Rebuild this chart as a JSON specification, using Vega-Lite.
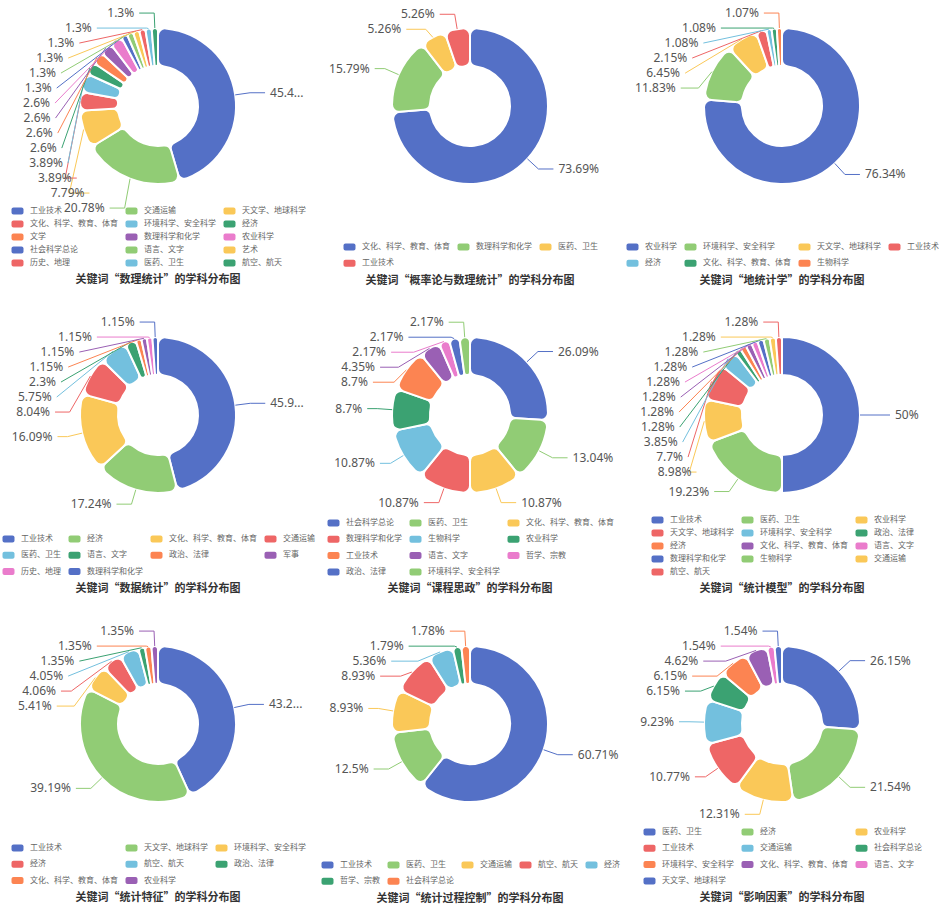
{
  "$schema": "https://vega.github.io/schema/vega-lite/v6.json",
  "background": "#ffffff",
  "padding": {"left": 2, "top": 0, "right": 0, "bottom": 0},
  "data": {"values": [
    {"c":"A","i":1,"n":"工业技术","v":45.45},{"c":"A","i":2,"n":"交通运输","v":20.78},{"c":"A","i":3,"n":"天文学、地球科学","v":7.79},{"c":"A","i":4,"n":"文化、科学、教育、体育","v":3.89},{"c":"A","i":5,"n":"环境科学、安全科学","v":3.89},{"c":"A","i":6,"n":"经济","v":2.6},{"c":"A","i":7,"n":"文学","v":2.6},{"c":"A","i":8,"n":"数理科学和化学","v":2.6},{"c":"A","i":9,"n":"农业科学","v":2.6},{"c":"A","i":10,"n":"社会科学总论","v":1.3},{"c":"A","i":11,"n":"语言、文字","v":1.3},{"c":"A","i":12,"n":"艺术","v":1.3},{"c":"A","i":13,"n":"历史、地理","v":1.3},{"c":"A","i":14,"n":"医药、卫生","v":1.3},{"c":"A","i":15,"n":"航空、航天","v":1.3},
    {"c":"B","i":1,"n":"文化、科学、教育、体育","v":73.69},{"c":"B","i":2,"n":"数理科学和化学","v":15.79},{"c":"B","i":3,"n":"医药、卫生","v":5.26},{"c":"B","i":4,"n":"工业技术","v":5.26},
    {"c":"C","i":1,"n":"农业科学","v":76.34},{"c":"C","i":2,"n":"环境科学、安全科学","v":11.83},{"c":"C","i":3,"n":"天文学、地球科学","v":6.45},{"c":"C","i":4,"n":"工业技术","v":2.15},{"c":"C","i":5,"n":"经济","v":1.08},{"c":"C","i":6,"n":"文化、科学、教育、体育","v":1.08},{"c":"C","i":7,"n":"生物科学","v":1.07},
    {"c":"D","i":1,"n":"工业技术","v":45.98},{"c":"D","i":2,"n":"经济","v":17.24},{"c":"D","i":3,"n":"文化、科学、教育、体育","v":16.09},{"c":"D","i":4,"n":"交通运输","v":8.04},{"c":"D","i":5,"n":"医药、卫生","v":5.75},{"c":"D","i":6,"n":"语言、文字","v":2.3},{"c":"D","i":7,"n":"政治、法律","v":1.15},{"c":"D","i":8,"n":"军事","v":1.15},{"c":"D","i":9,"n":"历史、地理","v":1.15},{"c":"D","i":10,"n":"数理科学和化学","v":1.15},
    {"c":"E","i":1,"n":"社会科学总论","v":26.09},{"c":"E","i":2,"n":"医药、卫生","v":13.04},{"c":"E","i":3,"n":"文化、科学、教育、体育","v":10.87},{"c":"E","i":4,"n":"数理科学和化学","v":10.87},{"c":"E","i":5,"n":"生物科学","v":10.87},{"c":"E","i":6,"n":"农业科学","v":8.7},{"c":"E","i":7,"n":"工业技术","v":8.7},{"c":"E","i":8,"n":"语言、文字","v":4.35},{"c":"E","i":9,"n":"哲学、宗教","v":2.17},{"c":"E","i":10,"n":"政治、法律","v":2.17},{"c":"E","i":11,"n":"环境科学、安全科学","v":2.17},
    {"c":"F","i":1,"n":"工业技术","v":50},{"c":"F","i":2,"n":"医药、卫生","v":19.23},{"c":"F","i":3,"n":"农业科学","v":8.98},{"c":"F","i":4,"n":"天文学、地球科学","v":7.7},{"c":"F","i":5,"n":"环境科学、安全科学","v":3.85},{"c":"F","i":6,"n":"政治、法律","v":1.28},{"c":"F","i":7,"n":"经济","v":1.28},{"c":"F","i":8,"n":"文化、科学、教育、体育","v":1.28},{"c":"F","i":9,"n":"语言、文字","v":1.28},{"c":"F","i":10,"n":"数理科学和化学","v":1.28},{"c":"F","i":11,"n":"生物科学","v":1.28},{"c":"F","i":12,"n":"交通运输","v":1.28},{"c":"F","i":13,"n":"航空、航天","v":1.28},
    {"c":"G","i":1,"n":"工业技术","v":43.24},{"c":"G","i":2,"n":"天文学、地球科学","v":39.19},{"c":"G","i":3,"n":"环境科学、安全科学","v":5.41},{"c":"G","i":4,"n":"经济","v":4.06},{"c":"G","i":5,"n":"航空、航天","v":4.05},{"c":"G","i":6,"n":"政治、法律","v":1.35},{"c":"G","i":7,"n":"文化、科学、教育、体育","v":1.35},{"c":"G","i":8,"n":"农业科学","v":1.35},
    {"c":"H","i":1,"n":"工业技术","v":60.71},{"c":"H","i":2,"n":"医药、卫生","v":12.5},{"c":"H","i":3,"n":"交通运输","v":8.93},{"c":"H","i":4,"n":"航空、航天","v":8.93},{"c":"H","i":5,"n":"经济","v":5.36},{"c":"H","i":6,"n":"哲学、宗教","v":1.79},{"c":"H","i":7,"n":"社会科学总论","v":1.78},
    {"c":"I","i":1,"n":"医药、卫生","v":26.15},{"c":"I","i":2,"n":"经济","v":21.54},{"c":"I","i":3,"n":"农业科学","v":12.31},{"c":"I","i":4,"n":"工业技术","v":10.77},{"c":"I","i":5,"n":"交通运输","v":9.23},{"c":"I","i":6,"n":"社会科学总论","v":6.15},{"c":"I","i":7,"n":"环境科学、安全科学","v":6.15},{"c":"I","i":8,"n":"文化、科学、教育、体育","v":4.62},{"c":"I","i":9,"n":"语言、文字","v":1.54},{"c":"I","i":10,"n":"天文学、地球科学","v":1.54}
  ]},
  "transform": [
    {"joinaggregate": [{"op": "sum", "field": "v", "as": "tot"}], "groupby": ["c"]},
    {"window": [{"op": "sum", "field": "v", "as": "cum"}], "sort": [{"field": "i", "order": "ascending"}], "groupby": ["c"], "frame": [null, 0]},
    {"calculate": "(datum.cum - datum.v/2)/datum.tot*2*PI", "as": "a"},
    {"calculate": "sin(datum.a)", "as": "sa"},
    {"calculate": "cos(datum.a)", "as": "ca"},
    {"calculate": "datum.sa < 0 ? -1 : 1", "as": "s"},
    {"calculate": "78*datum.sa", "as": "p0x"},
    {"calculate": "-78*datum.ca", "as": "p0y"},
    {"calculate": "93*datum.sa", "as": "x2"},
    {"calculate": "-93*datum.ca", "as": "y2"},
    {"window": [{"op": "row_number", "as": "k"}], "sort": [{"field": "y2", "order": "ascending"}], "groupby": ["c", "s"]},
    {"calculate": "datum.y2 - 15*(datum.k - 1)", "as": "tk"},
    {"window": [{"op": "max", "field": "tk", "as": "cm"}], "sort": [{"field": "y2", "order": "ascending"}], "groupby": ["c", "s"], "frame": [null, 0]},
    {"joinaggregate": [{"op": "count", "as": "cnt"}], "groupby": ["c", "s"]},
    {"calculate": "datum.cnt < 2 ? datum.y2 : max(datum.cm, -98.5) + 15*(datum.k - 1)", "as": "Ly"},
    {"calculate": "datum.Ly > datum.y2 + 0.001 ? 1 : 0", "as": "sh"},
    {"joinaggregate": [{"op": "max", "field": "sh", "as": "adj"}], "groupby": ["c", "s"]},
    {"calculate": "datum.Ly > 0 ? 1 : 0", "as": "semi"},
    {"calculate": "abs(datum.Ly)", "as": "dy"},
    {"calculate": "abs(datum.x2) + 5", "as": "adx"},
    {"calculate": "datum.adx < 93 ? sqrt(datum.dy*datum.dy/(1 - datum.adx*datum.adx/8649)) : 93", "as": "rBc"},
    {"joinaggregate": [{"op": "max", "field": "dy", "as": "mdy"}], "groupby": ["c", "s", "semi"]},
    {"calculate": "datum.dy >= datum.mdy ? datum.rBc : 0", "as": "rBm"},
    {"joinaggregate": [{"op": "max", "field": "rBm", "as": "rB"}], "groupby": ["c", "s", "semi"]},
    {"calculate": "datum.adj > 0 ? datum.s*(sqrt(max(0, 1 - datum.dy*datum.dy/max(datum.rB*datum.rB, 1)))*93 + 15) : datum.x2 + datum.s*20", "as": "lx"},
    {"calculate": "datum.lx - datum.s*5", "as": "x3"},
    {"calculate": "(datum.x2 - datum.p0x)*datum.sa - (datum.Ly - datum.p0y)*datum.ca", "as": "dot"},
    {"calculate": "datum.x3 > datum.x2 ? 1 : -1", "as": "sg"},
    {"calculate": "datum.p0x + datum.sg*abs(datum.Ly - datum.p0y)*abs(datum.ca)/max(abs(datum.sa), 0.000001)", "as": "nx"},
    {"calculate": "(datum.nx - datum.x2)/(datum.x3 - datum.x2)", "as": "tt"},
    {"calculate": "datum.dot >= 0 ? datum.x2 : (datum.sg*datum.sa <= 0 ? datum.x3 : (datum.tt < 0 ? datum.x2 : (datum.tt > 1 ? datum.x3 : datum.nx)))", "as": "p1x"},
    {"calculate": "toString(datum.v) + '%'", "as": "lab"}
  ],
  "columns": 3,
  "spacing": {"row": 97, "column": 0},
  "bounds": "flush",
  "resolve": {"scale": {"color": "independent"}, "legend": {"color": "independent"}},
  "concat": [
    {
      "width": 312, "height": 212,
      "title": "关键词“数理统计”的学科分布图",
      "transform": [{"filter": "datum.c === 'A'"}],
      "encoding": {"color": {"field": "n", "type": "nominal", "sort": {"field": "i", "op": "min"}, "scale": {"range": ["#5470c6","#91cc75","#fac858","#ee6666","#73c0de","#3ba272","#fc8452","#9a60b4","#ea7ccc"]}, "legend": {"title": null, "orient": "bottom", "direction": "horizontal", "columns": 3, "offset": -5, "rowPadding": 5, "symbolType": "M-0.43,-1H1.86A0.57,0.57,0,0,1,2.43,-0.43V0.43A0.57,0.57,0,0,1,1.86,1H-0.43A0.57,0.57,0,0,1,-1,0.43V-0.43A0.57,0.57,0,0,1,-0.43,-1Z"}}},
      "layer": [
        {"mark": {"type": "arc", "innerRadius": 40, "outerRadius": 78, "cornerRadius": 7, "stroke": "#ffffff", "strokeWidth": 2}, "encoding": {"theta": {"field": "v", "type": "quantitative", "stack": true}, "order": {"field": "i", "type": "quantitative"}}},
        {"mark": {"type": "rule", "strokeWidth": 1}, "encoding": {"x": {"field": "p0x", "type": "quantitative", "scale": {"domain": [-156, 156], "nice": false, "zero": false}, "axis": null}, "y": {"field": "p0y", "type": "quantitative", "scale": {"domain": [-106, 106], "nice": false, "zero": false, "reverse": true}, "axis": null}, "x2": {"field": "p1x"}, "y2": {"field": "Ly"}}},
        {"mark": {"type": "rule", "strokeWidth": 1}, "encoding": {"x": {"field": "p1x", "type": "quantitative"}, "y": {"field": "Ly", "type": "quantitative"}, "x2": {"field": "x3"}}},
        {"transform": [{"filter": "datum.s < 0"}], "mark": {"type": "text", "align": "right", "baseline": "middle", "font": "Noto Sans", "fontSize": 12}, "encoding": {"x": {"field": "lx", "type": "quantitative"}, "y": {"field": "Ly", "type": "quantitative"}, "text": {"field": "lab"}, "color": {"value": "#555555"}}},
        {"transform": [{"filter": "datum.s > 0"}], "mark": {"type": "text", "align": "left", "baseline": "middle", "font": "Noto Sans", "fontSize": 12, "limit": 35, "ellipsis": "..."}, "encoding": {"x": {"field": "lx", "type": "quantitative"}, "y": {"field": "Ly", "type": "quantitative"}, "text": {"field": "lab"}, "color": {"value": "#555555"}}}
      ]
    },
    {
      "width": 312, "height": 212,
      "title": "关键词“概率论与数理统计”的学科分布图",
      "transform": [{"filter": "datum.c === 'B'"}],
      "encoding": {"color": {"field": "n", "type": "nominal", "sort": {"field": "i", "op": "min"}, "scale": {"range": ["#5470c6","#91cc75","#fac858","#ee6666","#73c0de","#3ba272","#fc8452","#9a60b4","#ea7ccc"]}, "legend": {"title": null, "orient": "bottom", "direction": "horizontal", "columns": 3, "offset": 31, "symbolType": "M-0.43,-1H1.86A0.57,0.57,0,0,1,2.43,-0.43V0.43A0.57,0.57,0,0,1,1.86,1H-0.43A0.57,0.57,0,0,1,-1,0.43V-0.43A0.57,0.57,0,0,1,-0.43,-1Z"}}},
      "layer": [
        {"mark": {"type": "arc", "innerRadius": 40, "outerRadius": 78, "cornerRadius": 7, "stroke": "#ffffff", "strokeWidth": 2}, "encoding": {"theta": {"field": "v", "type": "quantitative", "stack": true}, "order": {"field": "i", "type": "quantitative"}}},
        {"mark": {"type": "rule", "strokeWidth": 1}, "encoding": {"x": {"field": "p0x", "type": "quantitative", "scale": {"domain": [-156, 156], "nice": false, "zero": false}, "axis": null}, "y": {"field": "p0y", "type": "quantitative", "scale": {"domain": [-106, 106], "nice": false, "zero": false, "reverse": true}, "axis": null}, "x2": {"field": "p1x"}, "y2": {"field": "Ly"}}},
        {"mark": {"type": "rule", "strokeWidth": 1}, "encoding": {"x": {"field": "p1x", "type": "quantitative"}, "y": {"field": "Ly", "type": "quantitative"}, "x2": {"field": "x3"}}},
        {"transform": [{"filter": "datum.s < 0"}], "mark": {"type": "text", "align": "right", "baseline": "middle", "font": "Noto Sans", "fontSize": 12}, "encoding": {"x": {"field": "lx", "type": "quantitative"}, "y": {"field": "Ly", "type": "quantitative"}, "text": {"field": "lab"}, "color": {"value": "#555555"}}},
        {"transform": [{"filter": "datum.s > 0"}], "mark": {"type": "text", "align": "left", "baseline": "middle", "font": "Noto Sans", "fontSize": 12}, "encoding": {"x": {"field": "lx", "type": "quantitative"}, "y": {"field": "Ly", "type": "quantitative"}, "text": {"field": "lab"}, "color": {"value": "#555555"}}}
      ]
    },
    {
      "width": 312, "height": 212,
      "title": "关键词“地统计学”的学科分布图",
      "transform": [{"filter": "datum.c === 'C'"}],
      "encoding": {"color": {"field": "n", "type": "nominal", "sort": {"field": "i", "op": "min"}, "scale": {"range": ["#5470c6","#91cc75","#fac858","#ee6666","#73c0de","#3ba272","#fc8452","#9a60b4","#ea7ccc"]}, "legend": {"title": null, "orient": "bottom", "direction": "horizontal", "columns": 4, "offset": 31, "symbolType": "M-0.43,-1H1.86A0.57,0.57,0,0,1,2.43,-0.43V0.43A0.57,0.57,0,0,1,1.86,1H-0.43A0.57,0.57,0,0,1,-1,0.43V-0.43A0.57,0.57,0,0,1,-0.43,-1Z"}}},
      "layer": [
        {"mark": {"type": "arc", "innerRadius": 40, "outerRadius": 78, "cornerRadius": 7, "stroke": "#ffffff", "strokeWidth": 2}, "encoding": {"theta": {"field": "v", "type": "quantitative", "stack": true}, "order": {"field": "i", "type": "quantitative"}}},
        {"mark": {"type": "rule", "strokeWidth": 1}, "encoding": {"x": {"field": "p0x", "type": "quantitative", "scale": {"domain": [-156, 156], "nice": false, "zero": false}, "axis": null}, "y": {"field": "p0y", "type": "quantitative", "scale": {"domain": [-106, 106], "nice": false, "zero": false, "reverse": true}, "axis": null}, "x2": {"field": "p1x"}, "y2": {"field": "Ly"}}},
        {"mark": {"type": "rule", "strokeWidth": 1}, "encoding": {"x": {"field": "p1x", "type": "quantitative"}, "y": {"field": "Ly", "type": "quantitative"}, "x2": {"field": "x3"}}},
        {"transform": [{"filter": "datum.s < 0"}], "mark": {"type": "text", "align": "right", "baseline": "middle", "font": "Noto Sans", "fontSize": 12}, "encoding": {"x": {"field": "lx", "type": "quantitative"}, "y": {"field": "Ly", "type": "quantitative"}, "text": {"field": "lab"}, "color": {"value": "#555555"}}},
        {"transform": [{"filter": "datum.s > 0"}], "mark": {"type": "text", "align": "left", "baseline": "middle", "font": "Noto Sans", "fontSize": 12}, "encoding": {"x": {"field": "lx", "type": "quantitative"}, "y": {"field": "Ly", "type": "quantitative"}, "text": {"field": "lab"}, "color": {"value": "#555555"}}}
      ]
    },
    {
      "width": 312, "height": 212,
      "title": "关键词“数据统计”的学科分布图",
      "transform": [{"filter": "datum.c === 'D'"}],
      "encoding": {"color": {"field": "n", "type": "nominal", "sort": {"field": "i", "op": "min"}, "scale": {"range": ["#5470c6","#91cc75","#fac858","#ee6666","#73c0de","#3ba272","#fc8452","#9a60b4","#ea7ccc"]}, "legend": {"title": null, "orient": "bottom", "direction": "horizontal", "columns": 4, "offset": 14, "symbolType": "M-0.43,-1H1.86A0.57,0.57,0,0,1,2.43,-0.43V0.43A0.57,0.57,0,0,1,1.86,1H-0.43A0.57,0.57,0,0,1,-1,0.43V-0.43A0.57,0.57,0,0,1,-0.43,-1Z"}}},
      "layer": [
        {"mark": {"type": "arc", "innerRadius": 40, "outerRadius": 78, "cornerRadius": 7, "stroke": "#ffffff", "strokeWidth": 2}, "encoding": {"theta": {"field": "v", "type": "quantitative", "stack": true}, "order": {"field": "i", "type": "quantitative"}}},
        {"mark": {"type": "rule", "strokeWidth": 1}, "encoding": {"x": {"field": "p0x", "type": "quantitative", "scale": {"domain": [-156, 156], "nice": false, "zero": false}, "axis": null}, "y": {"field": "p0y", "type": "quantitative", "scale": {"domain": [-106, 106], "nice": false, "zero": false, "reverse": true}, "axis": null}, "x2": {"field": "p1x"}, "y2": {"field": "Ly"}}},
        {"mark": {"type": "rule", "strokeWidth": 1}, "encoding": {"x": {"field": "p1x", "type": "quantitative"}, "y": {"field": "Ly", "type": "quantitative"}, "x2": {"field": "x3"}}},
        {"transform": [{"filter": "datum.s < 0"}], "mark": {"type": "text", "align": "right", "baseline": "middle", "font": "Noto Sans", "fontSize": 12}, "encoding": {"x": {"field": "lx", "type": "quantitative"}, "y": {"field": "Ly", "type": "quantitative"}, "text": {"field": "lab"}, "color": {"value": "#555555"}}},
        {"transform": [{"filter": "datum.s > 0"}], "mark": {"type": "text", "align": "left", "baseline": "middle", "font": "Noto Sans", "fontSize": 12, "limit": 35, "ellipsis": "..."}, "encoding": {"x": {"field": "lx", "type": "quantitative"}, "y": {"field": "Ly", "type": "quantitative"}, "text": {"field": "lab"}, "color": {"value": "#555555"}}}
      ]
    },
    {
      "width": 312, "height": 212,
      "title": "关键词“课程思政”的学科分布图",
      "transform": [{"filter": "datum.c === 'E'"}],
      "encoding": {"color": {"field": "n", "type": "nominal", "sort": {"field": "i", "op": "min"}, "scale": {"range": ["#5470c6","#91cc75","#fac858","#ee6666","#73c0de","#3ba272","#fc8452","#9a60b4","#ea7ccc"]}, "legend": {"title": null, "orient": "bottom", "direction": "horizontal", "columns": 3, "offset": -2, "symbolType": "M-0.43,-1H1.86A0.57,0.57,0,0,1,2.43,-0.43V0.43A0.57,0.57,0,0,1,1.86,1H-0.43A0.57,0.57,0,0,1,-1,0.43V-0.43A0.57,0.57,0,0,1,-0.43,-1Z"}}},
      "layer": [
        {"mark": {"type": "arc", "innerRadius": 40, "outerRadius": 78, "cornerRadius": 7, "stroke": "#ffffff", "strokeWidth": 2}, "encoding": {"theta": {"field": "v", "type": "quantitative", "stack": true}, "order": {"field": "i", "type": "quantitative"}}},
        {"mark": {"type": "rule", "strokeWidth": 1}, "encoding": {"x": {"field": "p0x", "type": "quantitative", "scale": {"domain": [-156, 156], "nice": false, "zero": false}, "axis": null}, "y": {"field": "p0y", "type": "quantitative", "scale": {"domain": [-106, 106], "nice": false, "zero": false, "reverse": true}, "axis": null}, "x2": {"field": "p1x"}, "y2": {"field": "Ly"}}},
        {"mark": {"type": "rule", "strokeWidth": 1}, "encoding": {"x": {"field": "p1x", "type": "quantitative"}, "y": {"field": "Ly", "type": "quantitative"}, "x2": {"field": "x3"}}},
        {"transform": [{"filter": "datum.s < 0"}], "mark": {"type": "text", "align": "right", "baseline": "middle", "font": "Noto Sans", "fontSize": 12}, "encoding": {"x": {"field": "lx", "type": "quantitative"}, "y": {"field": "Ly", "type": "quantitative"}, "text": {"field": "lab"}, "color": {"value": "#555555"}}},
        {"transform": [{"filter": "datum.s > 0"}], "mark": {"type": "text", "align": "left", "baseline": "middle", "font": "Noto Sans", "fontSize": 12}, "encoding": {"x": {"field": "lx", "type": "quantitative"}, "y": {"field": "Ly", "type": "quantitative"}, "text": {"field": "lab"}, "color": {"value": "#555555"}}}
      ]
    },
    {
      "width": 312, "height": 212,
      "title": "关键词“统计模型”的学科分布图",
      "transform": [{"filter": "datum.c === 'F'"}],
      "encoding": {"color": {"field": "n", "type": "nominal", "sort": {"field": "i", "op": "min"}, "scale": {"range": ["#5470c6","#91cc75","#fac858","#ee6666","#73c0de","#3ba272","#fc8452","#9a60b4","#ea7ccc"]}, "legend": {"title": null, "orient": "bottom", "direction": "horizontal", "columns": 3, "offset": -5, "rowPadding": 5, "symbolType": "M-0.43,-1H1.86A0.57,0.57,0,0,1,2.43,-0.43V0.43A0.57,0.57,0,0,1,1.86,1H-0.43A0.57,0.57,0,0,1,-1,0.43V-0.43A0.57,0.57,0,0,1,-0.43,-1Z"}}},
      "layer": [
        {"mark": {"type": "arc", "innerRadius": 40, "outerRadius": 78, "cornerRadius": 7, "stroke": "#ffffff", "strokeWidth": 2}, "encoding": {"theta": {"field": "v", "type": "quantitative", "stack": true}, "order": {"field": "i", "type": "quantitative"}}},
        {"mark": {"type": "rule", "strokeWidth": 1}, "encoding": {"x": {"field": "p0x", "type": "quantitative", "scale": {"domain": [-156, 156], "nice": false, "zero": false}, "axis": null}, "y": {"field": "p0y", "type": "quantitative", "scale": {"domain": [-106, 106], "nice": false, "zero": false, "reverse": true}, "axis": null}, "x2": {"field": "p1x"}, "y2": {"field": "Ly"}}},
        {"mark": {"type": "rule", "strokeWidth": 1}, "encoding": {"x": {"field": "p1x", "type": "quantitative"}, "y": {"field": "Ly", "type": "quantitative"}, "x2": {"field": "x3"}}},
        {"transform": [{"filter": "datum.s < 0"}], "mark": {"type": "text", "align": "right", "baseline": "middle", "font": "Noto Sans", "fontSize": 12}, "encoding": {"x": {"field": "lx", "type": "quantitative"}, "y": {"field": "Ly", "type": "quantitative"}, "text": {"field": "lab"}, "color": {"value": "#555555"}}},
        {"transform": [{"filter": "datum.s > 0"}], "mark": {"type": "text", "align": "left", "baseline": "middle", "font": "Noto Sans", "fontSize": 12}, "encoding": {"x": {"field": "lx", "type": "quantitative"}, "y": {"field": "Ly", "type": "quantitative"}, "text": {"field": "lab"}, "color": {"value": "#555555"}}}
      ]
    },
    {
      "width": 312, "height": 212,
      "title": "关键词“统计特征”的学科分布图",
      "transform": [{"filter": "datum.c === 'G'"}],
      "encoding": {"color": {"field": "n", "type": "nominal", "sort": {"field": "i", "op": "min"}, "scale": {"range": ["#5470c6","#91cc75","#fac858","#ee6666","#73c0de","#3ba272","#fc8452","#9a60b4","#ea7ccc"]}, "legend": {"title": null, "orient": "bottom", "direction": "horizontal", "columns": 3, "offset": 14, "symbolType": "M-0.43,-1H1.86A0.57,0.57,0,0,1,2.43,-0.43V0.43A0.57,0.57,0,0,1,1.86,1H-0.43A0.57,0.57,0,0,1,-1,0.43V-0.43A0.57,0.57,0,0,1,-0.43,-1Z"}}},
      "layer": [
        {"mark": {"type": "arc", "innerRadius": 40, "outerRadius": 78, "cornerRadius": 7, "stroke": "#ffffff", "strokeWidth": 2}, "encoding": {"theta": {"field": "v", "type": "quantitative", "stack": true}, "order": {"field": "i", "type": "quantitative"}}},
        {"mark": {"type": "rule", "strokeWidth": 1}, "encoding": {"x": {"field": "p0x", "type": "quantitative", "scale": {"domain": [-156, 156], "nice": false, "zero": false}, "axis": null}, "y": {"field": "p0y", "type": "quantitative", "scale": {"domain": [-106, 106], "nice": false, "zero": false, "reverse": true}, "axis": null}, "x2": {"field": "p1x"}, "y2": {"field": "Ly"}}},
        {"mark": {"type": "rule", "strokeWidth": 1}, "encoding": {"x": {"field": "p1x", "type": "quantitative"}, "y": {"field": "Ly", "type": "quantitative"}, "x2": {"field": "x3"}}},
        {"transform": [{"filter": "datum.s < 0"}], "mark": {"type": "text", "align": "right", "baseline": "middle", "font": "Noto Sans", "fontSize": 12}, "encoding": {"x": {"field": "lx", "type": "quantitative"}, "y": {"field": "Ly", "type": "quantitative"}, "text": {"field": "lab"}, "color": {"value": "#555555"}}},
        {"transform": [{"filter": "datum.s > 0"}], "mark": {"type": "text", "align": "left", "baseline": "middle", "font": "Noto Sans", "fontSize": 12, "limit": 36, "ellipsis": "..."}, "encoding": {"x": {"field": "lx", "type": "quantitative"}, "y": {"field": "Ly", "type": "quantitative"}, "text": {"field": "lab"}, "color": {"value": "#555555"}}}
      ]
    },
    {
      "width": 312, "height": 212,
      "title": "关键词“统计过程控制”的学科分布图",
      "transform": [{"filter": "datum.c === 'H'"}],
      "encoding": {"color": {"field": "n", "type": "nominal", "sort": {"field": "i", "op": "min"}, "scale": {"range": ["#5470c6","#91cc75","#fac858","#ee6666","#73c0de","#3ba272","#fc8452","#9a60b4","#ea7ccc"]}, "legend": {"title": null, "orient": "bottom", "direction": "horizontal", "columns": 5, "offset": 31, "symbolType": "M-0.43,-1H1.86A0.57,0.57,0,0,1,2.43,-0.43V0.43A0.57,0.57,0,0,1,1.86,1H-0.43A0.57,0.57,0,0,1,-1,0.43V-0.43A0.57,0.57,0,0,1,-0.43,-1Z"}}},
      "layer": [
        {"mark": {"type": "arc", "innerRadius": 40, "outerRadius": 78, "cornerRadius": 7, "stroke": "#ffffff", "strokeWidth": 2}, "encoding": {"theta": {"field": "v", "type": "quantitative", "stack": true}, "order": {"field": "i", "type": "quantitative"}}},
        {"mark": {"type": "rule", "strokeWidth": 1}, "encoding": {"x": {"field": "p0x", "type": "quantitative", "scale": {"domain": [-156, 156], "nice": false, "zero": false}, "axis": null}, "y": {"field": "p0y", "type": "quantitative", "scale": {"domain": [-106, 106], "nice": false, "zero": false, "reverse": true}, "axis": null}, "x2": {"field": "p1x"}, "y2": {"field": "Ly"}}},
        {"mark": {"type": "rule", "strokeWidth": 1}, "encoding": {"x": {"field": "p1x", "type": "quantitative"}, "y": {"field": "Ly", "type": "quantitative"}, "x2": {"field": "x3"}}},
        {"transform": [{"filter": "datum.s < 0"}], "mark": {"type": "text", "align": "right", "baseline": "middle", "font": "Noto Sans", "fontSize": 12}, "encoding": {"x": {"field": "lx", "type": "quantitative"}, "y": {"field": "Ly", "type": "quantitative"}, "text": {"field": "lab"}, "color": {"value": "#555555"}}},
        {"transform": [{"filter": "datum.s > 0"}], "mark": {"type": "text", "align": "left", "baseline": "middle", "font": "Noto Sans", "fontSize": 12}, "encoding": {"x": {"field": "lx", "type": "quantitative"}, "y": {"field": "Ly", "type": "quantitative"}, "text": {"field": "lab"}, "color": {"value": "#555555"}}}
      ]
    },
    {
      "width": 312, "height": 212,
      "title": "关键词“影响因素”的学科分布图",
      "transform": [{"filter": "datum.c === 'I'"}],
      "encoding": {"color": {"field": "n", "type": "nominal", "sort": {"field": "i", "op": "min"}, "scale": {"range": ["#5470c6","#91cc75","#fac858","#ee6666","#73c0de","#3ba272","#fc8452","#9a60b4","#ea7ccc"]}, "legend": {"title": null, "orient": "bottom", "direction": "horizontal", "columns": 3, "offset": -2, "symbolType": "M-0.43,-1H1.86A0.57,0.57,0,0,1,2.43,-0.43V0.43A0.57,0.57,0,0,1,1.86,1H-0.43A0.57,0.57,0,0,1,-1,0.43V-0.43A0.57,0.57,0,0,1,-0.43,-1Z"}}},
      "layer": [
        {"mark": {"type": "arc", "innerRadius": 40, "outerRadius": 78, "cornerRadius": 7, "stroke": "#ffffff", "strokeWidth": 2}, "encoding": {"theta": {"field": "v", "type": "quantitative", "stack": true}, "order": {"field": "i", "type": "quantitative"}}},
        {"mark": {"type": "rule", "strokeWidth": 1}, "encoding": {"x": {"field": "p0x", "type": "quantitative", "scale": {"domain": [-156, 156], "nice": false, "zero": false}, "axis": null}, "y": {"field": "p0y", "type": "quantitative", "scale": {"domain": [-106, 106], "nice": false, "zero": false, "reverse": true}, "axis": null}, "x2": {"field": "p1x"}, "y2": {"field": "Ly"}}},
        {"mark": {"type": "rule", "strokeWidth": 1}, "encoding": {"x": {"field": "p1x", "type": "quantitative"}, "y": {"field": "Ly", "type": "quantitative"}, "x2": {"field": "x3"}}},
        {"transform": [{"filter": "datum.s < 0"}], "mark": {"type": "text", "align": "right", "baseline": "middle", "font": "Noto Sans", "fontSize": 12}, "encoding": {"x": {"field": "lx", "type": "quantitative"}, "y": {"field": "Ly", "type": "quantitative"}, "text": {"field": "lab"}, "color": {"value": "#555555"}}},
        {"transform": [{"filter": "datum.s > 0"}], "mark": {"type": "text", "align": "left", "baseline": "middle", "font": "Noto Sans", "fontSize": 12}, "encoding": {"x": {"field": "lx", "type": "quantitative"}, "y": {"field": "Ly", "type": "quantitative"}, "text": {"field": "lab"}, "color": {"value": "#555555"}}}
      ]
    }
  ],
  "config": {
    "view": {"stroke": null},
    "font": "Noto Sans CJK SC",
    "title": {"orient": "bottom", "anchor": "middle", "fontSize": 11, "fontWeight": "bold", "color": "#333333", "offset": 7, "font": "Noto Sans CJK SC"},
    "legend": {
      "labelFont": "Noto Sans CJK SC", "labelFontSize": 8, "labelColor": "#666666",
      "symbolSize": 49, "symbolStrokeWidth": 0, "labelOffset": 11,
      "rowPadding": 8.3, "columnPadding": 7, "padding": 0,
      "layout": {"bottom": {"anchor": "middle"}}
    }
  }
}
